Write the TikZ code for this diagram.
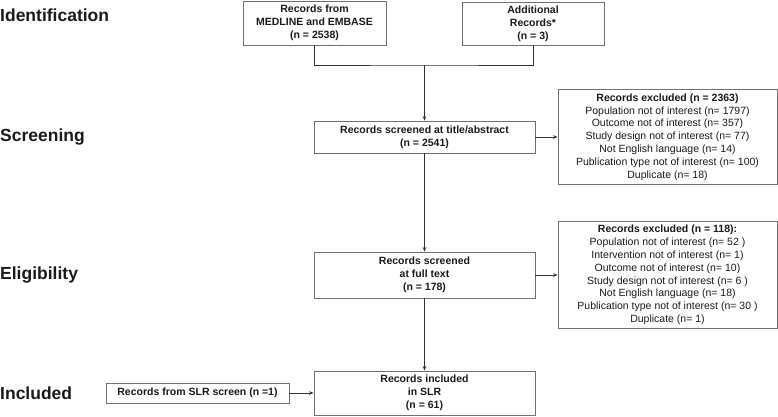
\documentclass[tikz,border=0pt]{standalone}
\usepackage{fontspec}
\setmainfont{Liberation Sans}
\usetikzlibrary{arrows.meta}
\definecolor{linec}{HTML}{333333}
\definecolor{boxc}{HTML}{707070}
\definecolor{txtc}{HTML}{1A1A1A}
\begin{document}
\begin{tikzpicture}[x=1pt,y=-1pt,
  box/.style={draw=boxc,line width=0.9pt,inner sep=0pt,align=center,text=txtc,
    font=\fontsize{10.5}{12.8}\selectfont},
  bbox/.style={box,font=\fontsize{10.5}{12.8}\selectfont\bfseries},
  stage/.style={anchor=west,inner sep=0pt,text=txtc,font=\fontsize{17.5}{20}\selectfont\bfseries},
  conn/.style={draw=linec,line width=0.8pt},
  arr/.style={conn,-{Stealth[length=4.5pt,width=3.6pt]}}]
\useasboundingbox (0,0) rectangle (778,416);
% stage labels
\node[stage] (sId) at (0,15) {Identification};
\node[stage] (sSc) at (0,137) {Screening};
\node[stage] (sEl) at (0,275) {Eligibility};
\node[stage] (sIn) at (0,393) {Included};
% boxes
\node[bbox,minimum width=143,minimum height=44] (b1) at (314.5,23)
  {Records from\\MEDLINE and EMBASE\\(n = 2538)};
\node[bbox,minimum width=142,minimum height=43] (b2) at (533,23.5)
  {Additional\\Records*\\(n = 3)};
\node[bbox,minimum width=221,minimum height=32] (scr) at (424.5,137)
  {Records screened at title/abstract\\(n = 2541)};
\node[box,minimum width=219,minimum height=95] (ex1) at (667.5,137)
  {\textbf{Records excluded (n = 2363)}\\Population not of interest (n= 1797)\\Outcome not of interest (n= 357)\\Study design not of interest (n= 77)\\Not English language (n= 14)\\Publication type not of interest (n= 100)\\Duplicate (n= 18)};
\node[bbox,minimum width=221,minimum height=46] (eli) at (424.5,275)
  {Records screened\\at full text\\(n = 178)};
\node[box,minimum width=219,minimum height=107] (ex2) at (667.5,275)
  {\textbf{Records excluded (n = 118):}\\Population not of interest (n= 52 )\\Intervention not of interest (n= 1)\\Outcome not of interest (n= 10)\\Study design not of interest (n= 6 )\\Not English language (n= 18)\\Publication type not of interest (n= 30 )\\Duplicate (n= 1)};
\node[bbox,minimum width=221,minimum height=44] (inc) at (424.5,393)
  {Records included\\in SLR\\(n = 61)};
\node[bbox,minimum width=183,minimum height=20] (slr) at (197.5,393)
  {Records from SLR screen (n =1)};
% connectors
\coordinate (j) at (424.5,65);
\draw[conn] (b1.south) |- (j) -| (b2.south);
\draw[arr] (j) -- (scr.north);
\draw[arr] (scr.east) -- (ex1.west);
\draw[arr] (scr.south) -- (eli.north);
\draw[arr] (eli.east) -- (ex2.west);
\draw[arr] (eli.south) -- (inc.north);
\draw[arr] (slr.east) -- (inc.west);
\end{tikzpicture}
\end{document}
